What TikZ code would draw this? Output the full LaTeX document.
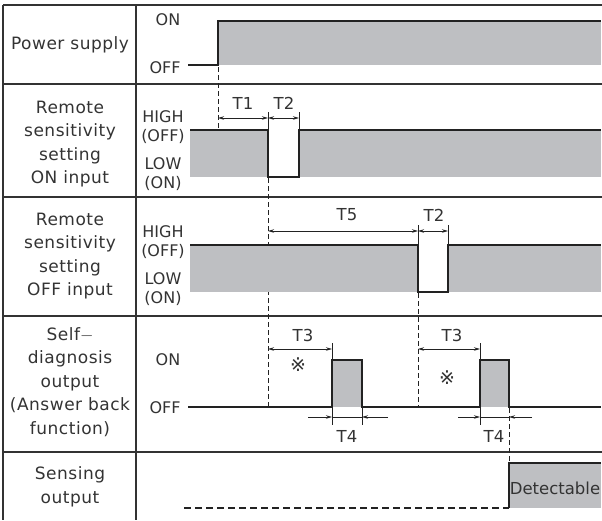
\documentclass[tikz,border=0pt]{standalone}
\usepackage{fontspec}
\setmainfont{DejaVu Sans}
\newfontfamily\labfont[LetterSpace=3]{DejaVu Sans}
\usetikzlibrary{arrows.meta}
\definecolor{sig}{HTML}{222222}
\definecolor{fillg}{HTML}{BEBFC2}
\definecolor{txt}{HTML}{333333}
\definecolor{gridc}{HTML}{333333}
\begin{document}
\begin{tikzpicture}[x=1pt,y=-1pt,
  gridline/.style={draw=gridc, line width=1.5pt},
  sigline/.style={draw=sig, line width=2pt, line join=miter},
  dashv/.style={draw=sig, line width=0.9pt, dash pattern=on 5pt off 3pt},
  dashh/.style={draw=sig, line width=1.5pt, dash pattern=on 7pt off 4pt},
  dimline/.style={draw=sig, line width=0.8pt},
  dimarr/.style={dimline, {Stealth[length=6pt,width=3.5pt]}-{Stealth[length=6pt,width=3.5pt]}},
  dimin/.style={dimline, -{Stealth[length=6pt,width=3.5pt]}},
  lab/.style={font=\labfont\fontsize{17}{23.5}\selectfont, text=txt, align=center, inner sep=0},
  lvl/.style={font=\fontsize{16}{19}\selectfont, text=txt, align=center, inner sep=0},
  tlab/.style={font=\fontsize{16.5}{19}\selectfont, text=txt, inner sep=0},
  refmark/.style={font=\fontsize{19}{19}\selectfont, text=txt, inner sep=0},
]
\useasboundingbox (0,0) rectangle (602,520);
% table
\draw[gridline] (3,5) -- (602,5);
\draw[gridline] (3,5) -- (3,520);
\draw[gridline] (136,5) -- (136,520);
\foreach \yy in {84,197,316,452} \draw[gridline] (3,\yy) -- (602,\yy);

% row labels
\node[lab] (l1) at (70,45) {Power supply};
\node[lab] (l2) at (70,144) {Remote\\sensitivity\\setting\\ON input};
\node[lab] (l3) at (70,256) {Remote\\sensitivity\\setting\\OFF input};
\node[lab] (l4) at (70,382) {Self$-$\\diagnosis\\output\\(Answer back\\function)};
\node[lab] (l5) at (70,487) {Sensing\\output};

% level labels
\node[lvl] (p1on) at (168,20) {ON};
\node[lvl] (p1off) at (165,68) {OFF};
\node[lvl] (r2h) at (163,127) {HIGH\\(OFF)};
\node[lvl] (r2l) at (163,174) {LOW\\(ON)};
\node[lvl] (r3h) at (163,242) {HIGH\\(OFF)};
\node[lvl] (r3l) at (163,289) {LOW\\(ON)};
\node[lvl] (r4on) at (168,360) {ON};
\node[lvl] (r4off) at (165,408) {OFF};

% power supply
\fill[fillg] (218,21) rectangle (601,65);
\draw[sigline] (188,65) -- (218,65) -- (218,21) -- (601,21);

% remote ON input
\fill[fillg] (190,130) rectangle (268,177);
\fill[fillg] (299,130) rectangle (601,177);
\draw[sigline] (190,130) -- (268,130) -- (268,177) -- (299,177) -- (299,130) -- (601,130);
\draw[dashv] (218,67) -- (218,130);
\draw[dimline] (268,112) -- (268,130);
\draw[dimline] (299,112) -- (299,130);
\draw[dimarr] (218,118) -- (268,118);
\draw[dimarr] (268,118) -- (299,118);
\node[tlab] (t1) at (243,103) {T1};
\node[tlab] (t2a) at (284,103) {T2};
\draw[dashv] (268,178) -- (268,407);

% remote OFF input
\fill[fillg] (190,245) rectangle (418,292);
\fill[fillg] (448,245) rectangle (601,292);
\draw[sigline] (190,245) -- (418,245) -- (418,292) -- (448,292) -- (448,245) -- (601,245);
\draw[dimline] (418,225) -- (418,245);
\draw[dimline] (448,225) -- (448,245);
\draw[dimarr] (268,231) -- (418,231);
\draw[dimarr] (418,231) -- (448,231);
\node[tlab] (t5) at (347,215) {T5};
\node[tlab] (t2b) at (434,215) {T2};
\draw[dashv] (418,293) -- (418,407);

% self-diagnosis
\fill[fillg] (332,360) rectangle (362,407);
\fill[fillg] (480,360) rectangle (509,407);
\draw[sigline] (188,407) -- (332,407) -- (332,360) -- (362,360) -- (362,407) -- (480,407) -- (480,360) -- (509,360) -- (509,407) -- (601,407);
\draw[dimline] (332,343) -- (332,360);
\draw[dimline] (480,343) -- (480,360);
\draw[dimarr] (268,349) -- (332,349);
\draw[dimarr] (418,349) -- (480,349);
\node[tlab] (t3a) at (303,335) {T3};
\node[tlab] (t3b) at (452,335) {T3};
\node[refmark] (m1) at (298,365) {※};
\node[refmark] (m2) at (447,378) {※};
\draw[dimline] (332,407) -- (332,425);
\draw[dimline] (362,407) -- (362,425);
\draw[dimline] (480,407) -- (480,425);
\draw[dimline] (332,417) -- (362,417);
\draw[dimline] (480,417) -- (509,417);
\draw[dimin] (308,417) -- (332,417);
\draw[dimin] (388,417) -- (362,417);
\draw[dimin] (458,417) -- (480,417);
\draw[dimin] (532,417) -- (509,417);
\node[tlab] (t4a) at (347,436) {T4};
\node[tlab] (t4b) at (494,436) {T4};
\draw[dashv] (509,408) -- (509,463);

% sensing output
\fill[fillg] (509,463) rectangle (601,508);
\draw[dashh] (184,508) -- (509,508);
\draw[sigline] (509,508) -- (509,463) -- (601,463);
\node[tlab] (det) at (555,488) {Detectable};
\end{tikzpicture}
\end{document}
